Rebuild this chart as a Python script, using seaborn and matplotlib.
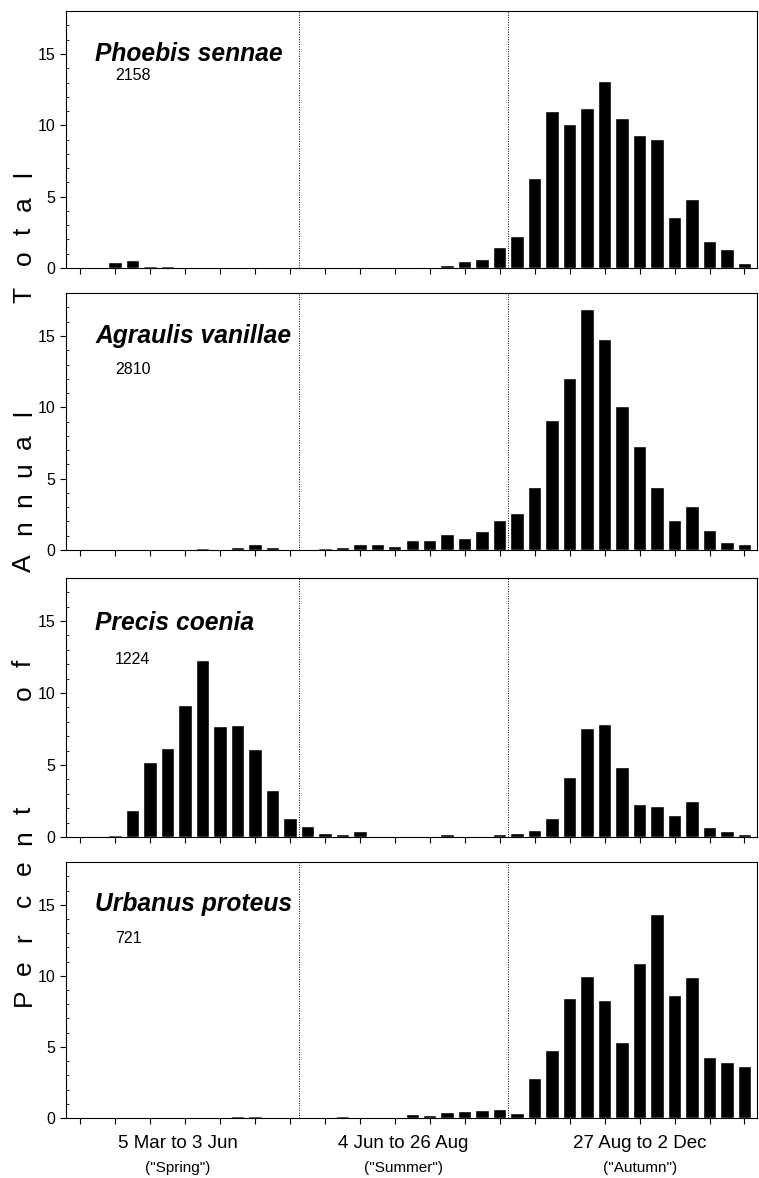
import numpy as np
import pandas as pd
import matplotlib
matplotlib.use("Agg")
import matplotlib.pyplot as plt
from matplotlib.ticker import MultipleLocator
import seaborn as sns

sns.set_style("ticks")
plt.rcParams["font.family"] = ["Liberation Sans", "DejaVu Sans"]
plt.rcParams.update({"text.color": "black", "axes.edgecolor": "black",
                     "xtick.color": "black", "ytick.color": "black",
                     "axes.labelcolor": "black"})

# weekly bins, 5 Mar .. 2 Dec (13 spring, 12 summer, 14 autumn weeks)
weeks = list(range(39))

species = ["Phoebis sennae", "Agraulis vanillae", "Precis coenia", "Urbanus proteus"]
totals = ["2158", "2810", "1224", "721"]

phoebis = [0.02, 0.0, 0.42, 0.58, 0.16, 0.14, 0.0, 0.0, 0.02, 0.0, 0.03, 0.03, 0.0,
           0.0, 0.0, 0.0, 0.0, 0.0, 0.0, 0.04, 0.04, 0.19, 0.47, 0.6, 1.47,
           2.26, 6.28, 10.98, 10.12, 11.2, 13.1, 10.5, 9.33, 9.07, 3.56, 4.81, 1.88, 1.35, 0.37]
agraulis = [0.0, 0.0, 0.0, 0.0, 0.05, 0.03, 0.05, 0.14, 0.07, 0.21, 0.44, 0.21, 0.07,
            0.09, 0.14, 0.21, 0.44, 0.44, 0.3, 0.72, 0.72, 1.12, 0.86, 1.33, 2.07,
            2.61, 4.4, 9.09, 12.03, 16.9, 14.8, 10.09, 7.27, 4.4, 2.1, 3.1, 1.38, 0.56, 0.42]
precis = [0.0, 0.05, 0.16, 1.9, 5.23, 6.16, 9.16, 12.3, 7.74, 7.81, 6.09, 3.26, 1.3,
          0.77, 0.3, 0.19, 0.42, 0.1, 0.05, 0.0, 0.09, 0.19, 0.1, 0.1, 0.19,
          0.26, 0.5, 1.3, 4.14, 7.56, 7.88, 4.84, 2.26, 2.14, 1.56, 2.49, 0.72, 0.4, 0.19]
urbanus = [0.0, 0.0, 0.02, 0.0, 0.0, 0.0, 0.0, 0.05, 0.05, 0.12, 0.16, 0.0, 0.02,
           0.02, 0.02, 0.14, 0.09, 0.0, 0.0, 0.26, 0.21, 0.42, 0.47, 0.54, 0.61,
           0.33, 2.81, 4.78, 8.45, 10.0, 8.29, 5.32, 10.9, 14.36, 8.67, 9.93, 4.31, 3.91, 3.65]
series = [phoebis, agraulis, precis, urbanus]

season_labels = ["5 Mar to 3 Jun", "4 Jun to 26 Aug", "27 Aug to 2 Dec"]
season_sub = ['("Spring")', '("Summer")', '("Autumn")']
season_x = [5.6, 18.5, 32.0]
season_breaks = [12.5, 24.5]

# shared y label, spread letter by letter (pixel rows of letter centres)
ylabel_letters = list("PercentofAnnualTotal")
ylabel_rows = [997, 968, 938, 900, 868, 838, 810,
               693, 663,
               563, 528, 500, 470, 442, 413,
               295, 258, 231, 204, 174]

# layout in figure fractions
panels = [(0.7725, 0.218), (0.5331, 0.218), (0.2895, 0.220), (0.0509, 0.2173)]
title_y = [0.835, 0.835, 0.826, 0.836]
num_y = [0.75, 0.704, 0.683, 0.703]

fig = plt.figure(figsize=(7.59, 11.78), dpi=100)

for i, (name, tot, vals) in enumerate(zip(species, totals, series)):
    bottom, height = panels[i]
    ax = fig.add_axes([0.087, bottom, 0.910, height])
    df = pd.DataFrame({"week": weeks, "pct": vals})
    sns.barplot(data=df, x="week", y="pct", color="black", width=0.77,
                saturation=1, ax=ax, order=weeks)
    for b in season_breaks:
        ax.axvline(b, color="black", linestyle=(0, (1, 1.5)), linewidth=0.7)
    ax.set_xlim(-0.8, 38.7)
    ax.set_ylim(0, 18)
    ax.set_xticks(range(0, 39, 2))
    ax.set_xticklabels([])
    ax.set_yticks([0, 5, 10, 15])
    ax.yaxis.set_minor_locator(MultipleLocator(1))
    ax.tick_params(axis="x", direction="out", length=4, width=0.8)
    ax.tick_params(axis="y", which="major", direction="out", length=4, width=0.8,
                   labelsize=11.5)
    ax.tick_params(axis="y", which="minor", direction="in", length=2, width=0.6)
    ax.set_xlabel("")
    ax.set_ylabel("")
    for s in ax.spines.values():
        s.set_visible(True)
        s.set_linewidth(0.8)
    ax.text(0.042, title_y[i], name, transform=ax.transAxes, fontsize=17.7,
            fontweight="bold", fontstyle="italic", va="center", ha="left")
    ax.text(0.071, num_y[i], tot, transform=ax.transAxes, fontsize=11.5,
            va="center", ha="left")
    if i == 3:
        for xs, lab, sub in zip(season_x, season_labels, season_sub):
            ax.text(xs, -0.1, lab, transform=ax.get_xaxis_transform(),
                    ha="center", va="center", fontsize=13.5)
            ax.text(xs, -0.195, sub, transform=ax.get_xaxis_transform(),
                    ha="center", va="center", fontsize=11)

for ch, row in zip(ylabel_letters, ylabel_rows):
    fig.text(31 / 759, 1 - row / 1178, ch, rotation=90, rotation_mode="anchor",
             ha="center", va="baseline", fontsize=19)

fig.savefig("out.png", dpi=100)
